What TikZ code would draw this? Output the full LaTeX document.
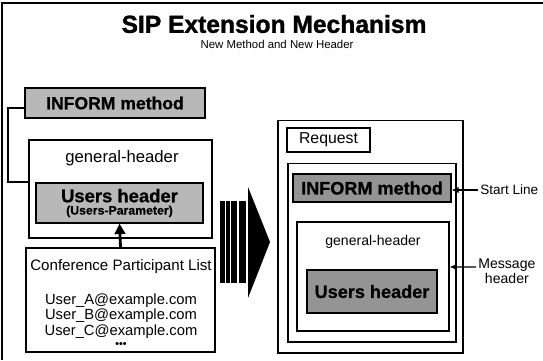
\documentclass[tikz,border=0pt]{standalone}
\usepackage{fontspec}
\setmainfont{Liberation Sans}
\newfontfamily\heavyfont[FakeBold=1.4]{Liberation Sans Bold}
\newfontfamily\semiheavy[FakeBold=0.8]{Liberation Sans Bold}
\usetikzlibrary{arrows.meta}
\begin{document}
\begin{tikzpicture}[x=0.02cm, y=-0.02cm,
    box/.style={draw, line width=0.6pt, inner sep=0pt, fill=white},
    shade-box/.style={box, fill=my-gray},
    txt/.style={inner sep=0pt},
    pointer/.style={line width=0.6pt, -{Latex[length=4pt,width=3.5pt]}}]
  \definecolor{my-gray}{gray}{0.72}
  \definecolor{my-dark}{gray}{0.58}
  \useasboundingbox (0,0) rectangle (543,360);
  % page frame (top and left only)
  \draw[line width=0.8pt] (2,360) -- (2,3) -- (543,3);
  \node[txt, font=\heavyfont\fontsize{14}{16}\selectfont] (title) at (274,24) {SIP Extension Mechanism};
  \node[txt, font=\fontsize{6.5}{8}\selectfont] (subtitle) at (277,44) {New Method and New Header};

  % left side: the new method and header
  \node[shade-box, minimum width=3.6cm, minimum height=0.6cm,
    font=\semiheavy\fontsize{10}{12}\selectfont] (informL) at (115,103) {INFORM method};
  \node[box, minimum width=3.66cm, minimum height=1.96cm] (genL) at (120.5,189) {};
  \node[txt, font=\fontsize{9.5}{12}\selectfont] (genLtxt) at (122,158) {general-header};
  \node[shade-box, minimum width=3.34cm, minimum height=0.8cm, align=center,
    font=\semiheavy\fontsize{10.5}{7}\selectfont] (usersL) at (119.5,203)
    {Users header\\{\fontsize{7}{8}\selectfont(Users-Parameter)}};
  \draw[line width=0.6pt] ([yshift=-0.1cm]informL.west) -| (8,182) -- (genL.west |- 0,182);

  \node[box, minimum width=3.78cm, minimum height=2.08cm] (listL) at (120.5,300) {};
  \node[txt, font=\fontsize{8.6}{10}\selectfont] (conf) at (121,267) {Conference Participant List};
  \node[txt, align=center, font=\fontsize{8.4}{9}\selectfont] (members) at (121,316)
    {User\_A@example.com\\User\_B@example.com\\User\_C@example.com};
  \node[txt, font=\fontsize{6}{6}\selectfont\bfseries] (more) at (121,345) {•••};
  \draw[line width=1.6pt, -{Triangle[length=6pt,width=6pt]}] (listL.north) -- (usersL.south);

  % big arrow
  \foreach \a/\b in {220/225, 226/230, 231/237, 239/246}
    \fill (\a,201) rectangle (\b,283);
  \fill (248,187) -- (270,242) -- (248,298) -- cycle;

  % right side: the request message
  \node[box, minimum width=3.7cm, minimum height=4.66cm] (reqR) at (370.5,236.5) {};
  \node[box, minimum width=1.66cm, minimum height=0.48cm,
    font=\fontsize{9}{11}\selectfont] (request) at (328.5,140) {Request};
  \node[box, minimum width=3.36cm, minimum height=3.58cm] (msgR) at (372,252.5) {};
  \node[shade-box, fill=my-dark, minimum width=3.16cm, minimum height=0.56cm,
    font=\semiheavy\fontsize{10.3}{12}\selectfont] (informR) at (372,188) {INFORM method};
  \node[box, minimum width=3.04cm, minimum height=2.18cm] (genR) at (373,276.5) {};
  \node[txt, font=\fontsize{8}{10}\selectfont] (genRtxt) at (373,242) {general-header};
  \node[shade-box, fill=my-dark, minimum width=2.6cm, minimum height=0.86cm,
    font=\semiheavy\fontsize{10.3}{12}\selectfont] (usersR) at (372,291.5) {Users header};

  \node[txt, anchor=west, font=\fontsize{7.7}{9}\selectfont] (startL) at (480,190) {Start Line};
  \draw[pointer] ([xshift=-0.04cm]startL.west) -- (informR.east |- startL.west);
  \node[txt, anchor=west, align=center, font=\fontsize{8}{7}\selectfont] (msgTxt) at (478,271) {Message\\header};
  \draw[pointer] ([xshift=-0.04cm,yshift=0.08cm]msgTxt.west) -- (genR.east |- 0,267);
\end{tikzpicture}
\end{document}
